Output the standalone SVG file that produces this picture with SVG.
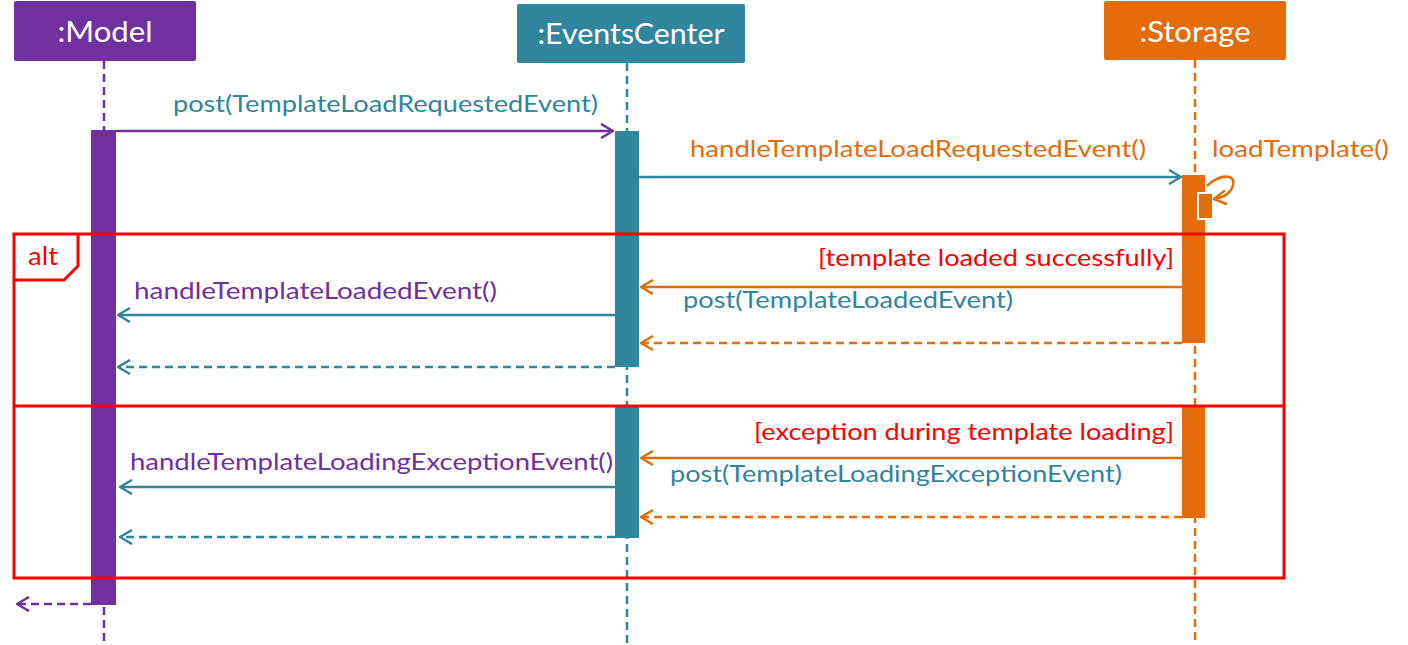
<svg xmlns="http://www.w3.org/2000/svg" width="1408" height="645" viewBox="0 0 1408 645">
<style>
text{font-family:Lato,"Open Sans","Liberation Sans",sans-serif;}
.hdr{font-size:29px;fill:#fff;text-anchor:middle;}
.lbl{font-size:23px;}
.pur{fill:#7030A0;}
.teal{fill:#31859C;}
.org{fill:#E46C0A;}
.red{fill:#FF0000;}
.ll{stroke-width:2.5;stroke-dasharray:8 5;fill:none;}
.msg{stroke-width:2.5;fill:none;}
.ret{stroke-width:2.5;fill:none;stroke-dasharray:8 5;}
</style>
<defs>
<marker id="aP" viewBox="0 0 14 16" refX="13" refY="8" markerWidth="14" markerHeight="16" markerUnits="userSpaceOnUse" orient="auto"><path d="M1,1 L13,8 L1,15" fill="none" stroke="#7030A0" stroke-width="2.5"/></marker>
<marker id="aT" viewBox="0 0 14 16" refX="13" refY="8" markerWidth="14" markerHeight="16" markerUnits="userSpaceOnUse" orient="auto"><path d="M1,1 L13,8 L1,15" fill="none" stroke="#31859C" stroke-width="2.5"/></marker>
<marker id="aO" viewBox="0 0 14 16" refX="13" refY="8" markerWidth="14" markerHeight="16" markerUnits="userSpaceOnUse" orient="auto"><path d="M1,1 L13,8 L1,15" fill="none" stroke="#E46C0A" stroke-width="2.5"/></marker>
</defs>

<g id="model">
<rect x="14" y="1" width="182" height="60" rx="2" fill="#7030A0"/>
<text class="hdr" x="105" y="42" textLength="95" lengthAdjust="spacingAndGlyphs">:Model</text>
<line class="ll" x1="104" y1="61" x2="104" y2="645" stroke="#7030A0"/>
<rect x="91" y="130" width="25" height="475" fill="#7030A0"/>
</g>

<g id="eventscenter">
<rect x="517" y="4" width="228" height="59" rx="2" fill="#31859C"/>
<text class="hdr" x="631" y="44" textLength="187" lengthAdjust="spacingAndGlyphs">:EventsCenter</text>
<line class="ll" x1="627" y1="63" x2="627" y2="645" stroke="#31859C"/>
<rect x="615" y="131" width="24" height="236" fill="#31859C"/>
<rect x="615" y="407" width="24" height="131" fill="#31859C"/>
</g>

<g id="storage">
<rect x="1104" y="1" width="182" height="59" rx="2" fill="#E46C0A"/>
<text class="hdr" x="1195" y="42" textLength="111" lengthAdjust="spacingAndGlyphs">:Storage</text>
<line class="ll" x1="1195" y1="60" x2="1195" y2="645" stroke="#E46C0A"/>
<rect x="1182" y="175" width="23" height="168" fill="#E46C0A"/>
<rect x="1182" y="407" width="23" height="111" fill="#E46C0A"/>
<rect x="1198" y="193" width="15" height="26" fill="#E46C0A" stroke="#fff" stroke-width="2"/>
</g>

<g id="alt-frame">
<rect x="14" y="234" width="1270" height="344" fill="none" stroke="#FF0000" stroke-width="3"/>
<line x1="14" y1="406" x2="1284" y2="406" stroke="#FF0000" stroke-width="3"/>
<path d="M14,280 L64,280 L78,266 L78,234" fill="none" stroke="#FF0000" stroke-width="3"/>
<text class="red" x="28" y="265" font-size="25" textLength="30" lengthAdjust="spacingAndGlyphs">alt</text>
<text class="lbl red" x="1174" y="266" text-anchor="end" textLength="356" lengthAdjust="spacingAndGlyphs">[template loaded successfully]</text>
<text class="lbl red" x="1174" y="440" text-anchor="end" textLength="420" lengthAdjust="spacingAndGlyphs">[exception during template loading]</text>
</g>

<g id="connectors">
<line class="msg" x1="116" y1="131" x2="613" y2="131" stroke="#7030A0" marker-end="url(#aP)"/>
<text class="lbl teal" x="173" y="112" textLength="425" lengthAdjust="spacingAndGlyphs">post(TemplateLoadRequestedEvent)</text>

<line class="msg" x1="639" y1="177" x2="1181" y2="177" stroke="#31859C" marker-end="url(#aT)"/>
<text class="lbl org" x="690" y="157" textLength="456" lengthAdjust="spacingAndGlyphs">handleTemplateLoadRequestedEvent()</text>

<path class="msg" d="M1207,186 C1222,172 1240,174 1231,190 C1227,196 1221,198 1214,199" stroke="#E46C0A" marker-end="url(#aO)"/>
<text class="lbl org" x="1212" y="157" textLength="177" lengthAdjust="spacingAndGlyphs">loadTemplate()</text>

<line class="msg" x1="1182" y1="287" x2="641" y2="287" stroke="#E46C0A" marker-end="url(#aO)"/>
<text class="lbl teal" x="683" y="308" textLength="330" lengthAdjust="spacingAndGlyphs">post(TemplateLoadedEvent)</text>

<line class="msg" x1="615" y1="315" x2="118" y2="315" stroke="#31859C" marker-end="url(#aT)"/>
<text class="lbl pur" x="134" y="299" textLength="363" lengthAdjust="spacingAndGlyphs">handleTemplateLoadedEvent()</text>

<line class="ret" x1="1182" y1="343" x2="641" y2="343" stroke="#E46C0A" marker-end="url(#aO)"/>
<line class="ret" x1="615" y1="367" x2="118" y2="367" stroke="#31859C" marker-end="url(#aT)"/>

<line class="msg" x1="1182" y1="458" x2="641" y2="458" stroke="#E46C0A" marker-end="url(#aO)"/>
<text class="lbl teal" x="670" y="482" textLength="452" lengthAdjust="spacingAndGlyphs">post(TemplateLoadingExceptionEvent)</text>

<line class="msg" x1="615" y1="487" x2="120" y2="487" stroke="#31859C" marker-end="url(#aT)"/>
<text class="lbl pur" x="130" y="470" textLength="483" lengthAdjust="spacingAndGlyphs">handleTemplateLoadingExceptionEvent()</text>

<line class="ret" x1="1182" y1="517" x2="641" y2="517" stroke="#E46C0A" marker-end="url(#aO)"/>
<line class="ret" x1="615" y1="537" x2="120" y2="537" stroke="#31859C" marker-end="url(#aT)"/>

<line class="ret" x1="91" y1="604" x2="17" y2="604" stroke="#7030A0" marker-end="url(#aP)"/>
</g>
</svg>
